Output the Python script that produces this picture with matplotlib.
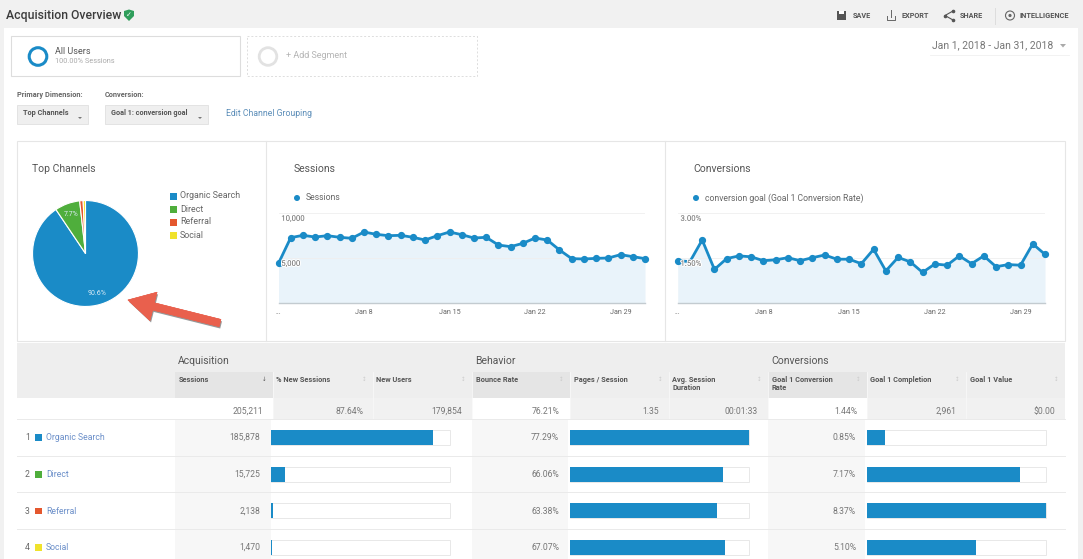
import matplotlib
matplotlib.use("Agg")
import matplotlib.pyplot as plt
from matplotlib.patches import Rectangle, Circle, Polygon
import matplotlib.patheffects as pe

plt.rcParams['font.family'] = ['Roboto', 'DejaVu Sans']

# ---------- data ----------
channels = ["Organic Search", "Direct", "Referral", "Social"]
channel_colors = ["#1a8bc7", "#4fae3c", "#e4572e", "#f0e22c"]
sessions = [185878, 15725, 2138, 1470]
sessions_txt = ["185,878", "15,725", "2,138", "1,470"]
bounce = [77.29, 66.06, 63.38, 67.07]
conv_rate = [0.85, 7.17, 8.37, 5.10]
totals = ["205,211", "87.64%", "179,854", "76.21%", "1.35", "00:01:33", "1.44%", "2,961", "$0.00"]
col_titles = ["Sessions", "% New Sessions", "New Users", "Bounce Rate", "Pages / Session",
              "Avg. Session\nDuration", "Goal 1 Conversion\nRate", "Goal 1 Completion", "Goal 1 Value"]
group_titles = ["Acquisition", "Behavior", "Conversions"]
daily_sessions = [4410, 7260, 7520, 7330, 7480, 7300, 7190, 7890, 7630, 7480, 7520, 7300, 7000, 7480,
                  7890, 7590, 7220, 7300, 6440, 6260, 6630, 7220, 7000, 5890, 4930, 4890, 4960, 5000,
                  5370, 5150, 4930]
daily_conv = [1.41, 1.38, 2.10, 1.12, 1.48, 1.57, 1.54, 1.41, 1.44, 1.51, 1.41, 1.51, 1.60, 1.46,
              1.46, 1.31, 1.79, 1.07, 1.52, 1.37, 1.02, 1.30, 1.26, 1.57, 1.31, 1.57, 1.21, 1.28,
              1.26, 1.97, 1.62]
date_ticks = [0, 7, 14, 21, 28]
date_labels = ["...", "Jan 8", "Jan 15", "Jan 22", "Jan 29"]

W, H = 1083, 559
BLUE = "#1a8bc7"
TXT = "#5f5f5f"
fig = plt.figure(figsize=(W / 100, H / 100), dpi=100, facecolor="#f1f1f1")

def axpx(x0, y0, x1, y1, z=2):
    return fig.add_axes([x0 / W, 1 - y1 / H, (x1 - x0) / W, (y1 - y0) / H], zorder=z)

def overlay(z):
    a = axpx(0, 0, W, H, z)
    a.set_xlim(0, W); a.set_ylim(H, 0); a.axis("off"); a.patch.set_alpha(0)
    return a

bg = overlay(0)
fg = overlay(6)

def rect(x0, y0, x1, y1, fc="white", ec="none", lw=0.6, **k):
    bg.add_patch(Rectangle((x0, y0), x1 - x0, y1 - y0, fc=fc, ec=ec, lw=lw, **k))

def t(x, y, s, size=6.5, color=TXT, ha="left", va="center", weight="normal", a=None):
    (a or bg).text(x, y, s, fontsize=size, color=color, ha=ha, va=va, fontweight=weight, linespacing=1.15)

# ---------- page chrome ----------
rect(4, 28, 1078, H, fc="white")
t(6, 15, "Acquisition Overview", 8.8, "#3c3c3c", weight="medium")
bg.add_patch(Polygon([[124, 11], [129, 9.5], [134, 11], [134, 16], [129, 21], [124, 16]], fc="#2f9e5b", ec="none"))
bg.text(129, 15.2, "✓", fontsize=5, color="white", ha="center", va="center", family="DejaVu Sans", fontweight="bold")

# toolbar
rect(837, 11, 846, 20, fc="#555555")
rect(839, 11, 844, 14, fc="white")
t(853, 15.5, "SAVE", 5.2, "#555555", weight="bold")
bg.plot([887, 887, 895, 895], [16, 20, 20, 16], color="#666666", lw=0.7)
bg.plot([891, 891], [10, 17], color="#666666", lw=0.7)
t(901, 15.5, "EXPORT", 5.2, "#555555", weight="bold")
bg.plot([953, 945, 953], [11, 15.5, 20], color="#555555", lw=0.8, marker="o", ms=1.6)
t(960, 15.5, "SHARE", 5.2, "#555555", weight="bold")
bg.plot([994.5, 994.5], [8, 24], color="#dddddd", lw=0.7)
bg.add_patch(Circle((1010, 15.5), 4.5, fc="none", ec="#666666", lw=0.8))
bg.add_patch(Circle((1010, 15.5), 1.6, fc="#666666", ec="none"))
t(1020, 15.5, "INTELLIGENCE", 5.3, "#555555", weight="bold")

# segments
rect(11, 36, 240, 76, fc="white", ec="#dddddd", lw=0.8)
bg.add_patch(Circle((38, 56.5), 8.8, fc="none", ec=BLUE, lw=2.2))
t(55, 51.5, "All Users", 6.5, "#555555")
t(55, 61.5, "100.00% Sessions", 5.3, "#aaaaaa")
rect(247, 36, 477, 76, fc="white", ec="#dddddd", lw=0.7, ls=(0, (2, 2)))
bg.add_patch(Circle((268, 56.5), 8.8, fc="none", ec="#e2e2e2", lw=2.0))
t(286, 55.5, "+ Add Segment", 6.5, "#b5b5b5")
t(932, 45, "Jan 1, 2018 - Jan 31, 2018", 7.5, "#777777")
bg.add_patch(Polygon([[1060, 44], [1066, 44], [1063, 47.5]], fc="#aaaaaa", ec="none"))
bg.plot([930, 1069], [54.5, 54.5], color="#f0f0f0", lw=0.6)

# dimension pickers
t(17, 95, "Primary Dimension:", 5.3, "#666666", weight="bold")
t(105, 95, "Conversion:", 5.3, "#666666", weight="bold")
rect(17, 105, 88, 124, fc="#efefef", ec="#e0e0e0")
rect(105, 105, 208, 124, fc="#efefef", ec="#e0e0e0")
t(23, 113, "Top Channels", 5.3, "#555555", weight="bold")
t(111, 113, "Goal 1: conversion goal", 5.2, "#555555", weight="bold")
bg.add_patch(Polygon([[78, 117], [82, 117], [80, 119]], fc="#777777"))
bg.add_patch(Polygon([[198, 117], [202, 117], [200, 119]], fc="#777777"))
t(226, 113.5, "Edit Channel Grouping", 6.2, "#5b8db8")

# chart panels
rect(17, 141, 1065, 341, fc="white", ec="#e6e6e6", lw=0.8)
for x in (266, 665):
    bg.plot([x, x], [141, 341], color="#e6e6e6", lw=0.8)
t(32, 168.5, "Top Channels", 7.5, "#555555")
t(294, 168.5, "Sessions", 7.5, "#555555")
t(693, 168.5, "Conversions", 7.5, "#555555")

# ---------- pie ----------
R = 53.5
pie_ax = axpx(85.5 - R, 253.5 - R, 85.5 + R, 253.5 + R)
wedges, _, autotexts = pie_ax.pie(
    sessions, colors=channel_colors, startangle=90, counterclock=False, radius=1,
    wedgeprops=dict(edgecolor="white", linewidth=0.8),
    autopct=lambda p: f"{p:.1f}%" if p > 5 else "", pctdistance=0.78,
    textprops=dict(color="#dcecf6", fontsize=5))
pie_ax.set_xlim(-1.01, 1.01); pie_ax.set_ylim(-1.01, 1.01)
for i, name in enumerate(channels):
    y = 196 + 13 * i
    rect(170, y - 3.5, 177, y + 3.5, fc=channel_colors[i])
    t(180, y, name, 6.4, "#666666")

# ---------- line charts ----------
def line_chart(x0, x1, values, ymax, yticks, ylabels, legend, lx):
    ax = axpx(x0, 213, x1, 303)
    ax.patch.set_alpha(0)
    xs = list(range(len(values)))
    ax.fill_between(xs, values, 0, color="#e9f3fa", lw=0, zorder=1)
    ax.plot(xs, values, color=BLUE, lw=2.0, marker="o", ms=4.2, clip_on=False, zorder=3)
    ax.set_xlim(0, 30); ax.set_ylim(0, ymax)
    ax.set_yticks(yticks); ax.set_yticklabels([])
    ax.set_xticks(date_ticks); ax.set_xticklabels(date_labels, fontsize=5.2, color="#666666")
    ax.tick_params(length=0, pad=4)
    ax.grid(axis="y", color="#efefef", lw=0.6, zorder=0)
    ax.xaxis.grid(False)
    for s in ("top", "left", "right"):
        ax.spines[s].set_visible(False)
    ax.spines["bottom"].set_color("#c3cbd0"); ax.spines["bottom"].set_linewidth(1.0)
    for v, lab in zip(yticks, ylabels):
        ax.annotate(lab, (0, v), xytext=(2, -4.2), textcoords="offset points", fontsize=5.6,
                    color="#666666", va="center", ha="left", zorder=5,
                    path_effects=[pe.withStroke(linewidth=1.4, foreground="white")])
    bg.add_patch(Circle((lx, 198), 3, fc=BLUE, ec="none"))
    t(lx + 9, 198, legend, 6.2, "#666666")

line_chart(278.5, 645, daily_sessions, 10000, [5000, 10000], ["5,000", "10,000"], "Sessions", 297)
line_chart(677.7, 1045, daily_conv, 3.0, [1.5, 3.0], ["1.50%", "3.00%"],
           "conversion goal (Goal 1 Conversion Rate)", 696)

# ---------- table ----------
edges = [175, 273, 373, 472, 570, 669, 768, 867, 966, 1065]
rows_y = [419, 456, 492, 529, 566]
row_centers = [437, 474, 510.5, 547]
active = (0, 3, 6)
BASE = 3  # distance from a row's visual centre to its text baseline
rect(17, 343, 1065, 398, fc="#eeeeee")
rect(17, 398, 1065, 419, fc="white")
for i in range(9):
    rect(edges[i], 372, edges[i + 1], 398, fc="#e5e5e5" if i in active else "#eeeeee")
    rect(edges[i], 398, edges[i + 1], 419, fc="white" if i in active else "#f1f1f1")
    t(edges[i] + 3.5, 375.5, col_titles[i], 5.3, "#555555", va="top", weight="bold")
    t(edges[i + 1] - 6, 379.5, "↓" if i == 0 else "↕", 4, "#555555" if i == 0 else "#cccccc",
      ha="right")
    t(edges[i + 1] - 10, 411 + BASE, totals[i], 6.2, "#777777", ha="right", va="baseline")
    if i:
        bg.plot([edges[i], edges[i]], [372, 419], color="#f8f8f8", lw=0.6)
for c in (0, 3, 6):
    rect(edges[c], 419, edges[c + 1] - 2, H, fc="#f7f7f7")
for j, x in enumerate((175, 472, 768)):
    t(x + 3, 361, group_titles[j], 7.5, "#555555")
for y in rows_y[:-1]:
    bg.plot([17, 1065], [y, y], color="#eaeaea", lw=0.7)

for i, name in enumerate(channels):
    yc = row_centers[i]
    yb = yc + BASE
    t(25, yb, str(i + 1), 6.2, "#666666", va="baseline")
    rect(35, yc - 3, 41.5, yc + 3.5, fc=channel_colors[i])
    t(46, yb, name, 6.2, "#6b8fc9", va="baseline")
    t(260, yb, sessions_txt[i], 6.2, "#777777", ha="right", va="baseline")
    t(559, yb, f"{bounce[i]:.2f}%", 6.2, "#777777", ha="right", va="baseline")
    t(856, yb, f"{conv_rate[i]:.2f}%", 6.2, "#777777", ha="right", va="baseline")

def bar_col(x0, x1, values, vmax):
    ax = axpx(x0, 419, x1, 566)
    ax.patch.set_alpha(0)
    pos = list(range(len(values)))
    ax.barh(pos, [vmax] * len(values), height=0.41, color="white", edgecolor="#e8e8e8", lw=0.7,
            zorder=1, clip_on=False)
    ax.barh(pos, values, height=0.41, color=BLUE, zorder=2, clip_on=False)
    ax.set_xlim(0, vmax); ax.set_ylim(3.5, -0.5)
    ax.axis("off")

bar_col(271, 450, sessions, sum(sessions))
bar_col(570, 749, bounce, max(bounce))
bar_col(867, 1046, conv_rate, max(conv_rate))

# ---------- annotation arrow ----------
fg.annotate("", xy=(128, 300), xytext=(220, 323),
            arrowprops=dict(arrowstyle="simple,head_length=1.35,head_width=1.5,tail_width=0.38",
                            fc="#e9604d", ec="#e9604d", lw=0.4, shrinkA=0, shrinkB=0, mutation_scale=14,
                            path_effects=[pe.withSimplePatchShadow(offset=(0.8, -1.4), shadow_rgbFace="#444444", alpha=0.55),
                                          pe.Normal()]))

fig.savefig("out.png", dpi=100, facecolor=fig.get_facecolor())
